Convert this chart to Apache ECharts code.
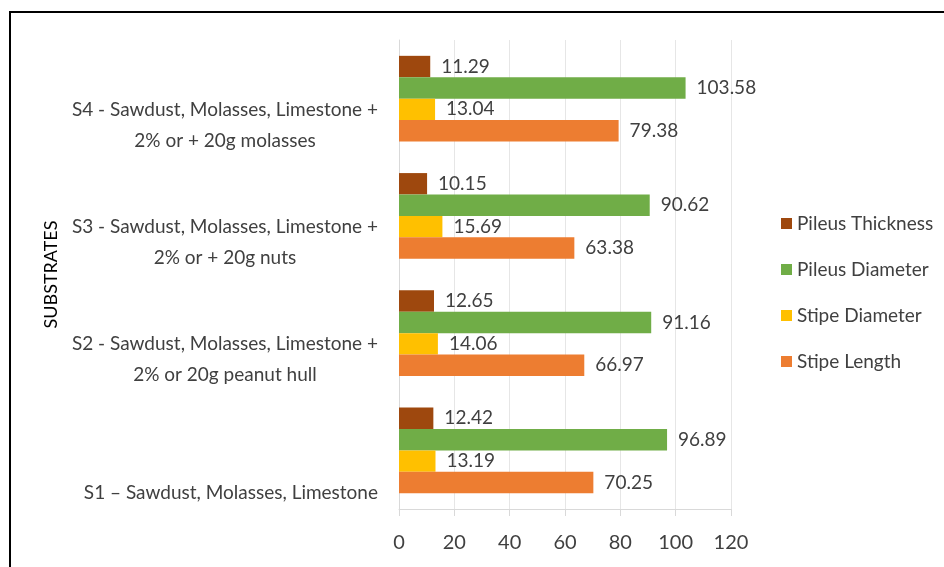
<!DOCTYPE html>
<html>
<head>
<meta charset="utf-8">
<script src="https://cdn.jsdelivr.net/npm/echarts@6/dist/echarts.min.js"></script>
<style>html,body{margin:0;padding:0;background:#fff}#c{width:944px;height:567px}</style>
</head>
<body>
<div id="c"></div>
<script>
var categories = [
  'S1 \u2013 Sawdust, Molasses, Limestone',
  'S2 - Sawdust, Molasses, Limestone +\n2% or 20g peanut hull',
  'S3 - Sawdust, Molasses, Limestone +\n2% or + 20g nuts',
  'S4 - Sawdust, Molasses, Limestone +\n2% or + 20g molasses'
];
var stipeLength = [70.25, 66.97, 63.38, 79.38];
var stipeDiameter = [13.19, 14.06, 15.69, 13.04];
var pileusDiameter = [96.89, 91.16, 90.62, 103.58];
var pileusThickness = [12.42, 12.65, 10.15, 11.29];
var xTicks = [0, 20, 40, 60, 80, 100, 120];

var FONT = 'Lato';
var TXT = '#404040';
function mk(name, data, color) {
  return {
    name: name, type: 'bar', data: data, barGap: '0%', barCategoryGap: '27%',
    itemStyle: { color: color },
    label: { show: true, position: 'right', distance: 11, color: TXT, fontFamily: FONT, fontSize: 19,
      formatter: function (p) { return p.value.toFixed(2); } }
  };
}
var chart = echarts.init(document.getElementById('c'));
chart.setOption({
  animation: false,
  textStyle: { fontFamily: FONT },
  graphic: [{ type: 'rect', shape: { x: 10, y: 12, width: 1000, height: 1000 },
    style: { fill: 'none', stroke: '#000', lineWidth: 2 }, silent: true }],
  grid: { left: 399, right: 213, top: 40, bottom: 58 },
  legend: {
    orient: 'vertical', left: 776, top: 209, itemWidth: 11, itemHeight: 11, itemGap: 27,
    icon: 'rect',
    data: ['Pileus Thickness', 'Pileus Diameter', 'Stipe Diameter', 'Stipe Length'],
    textStyle: { color: TXT, fontSize: 19, fontFamily: FONT }
  },
  xAxis: {
    type: 'value', min: xTicks[0], max: xTicks[xTicks.length - 1], interval: 20,
    axisLine: { show: true, lineStyle: { color: '#d9d9d9' } },
    axisTick: { show: true, length: 7, lineStyle: { color: '#d9d9d9' } },
    splitLine: { show: true, lineStyle: { color: '#e6e6e6' } },
    axisLabel: { color: TXT, fontSize: 20, fontFamily: FONT, margin: 24 }
  },
  yAxis: {
    type: 'category', data: categories,
    name: 'SUBSTRATES', nameLocation: 'middle', nameRotate: 90, nameGap: 339, nameMoveOverlap: false,
    nameTextStyle: { color: '#000', fontSize: 18, fontFamily: FONT },
    axisLine: { show: true, lineStyle: { color: '#d9d9d9' } },
    axisTick: { show: false },
    axisLabel: {
      color: TXT, fontSize: 19, fontFamily: FONT, margin: 21, align: 'right', verticalAlign: 'middle',
      formatter: function (v) {
        var lines = v.split('\n');
        var sp = lines.length > 1 ? '{sp2| }' : '{sp1| }';
        return sp + '\n' + lines.map(function (s) { return '{a|' + s + '}'; }).join('\n');
      },
      rich: {
        a: { align: 'center', color: TXT, fontSize: 19, fontFamily: FONT, lineHeight: 31 },
        sp2: { fontSize: 4, lineHeight: 53 },
        sp1: { fontSize: 4, lineHeight: 84 }
      }
    }
  },
  series: [
    mk('Pileus Thickness', pileusThickness, '#9E480E'),
    mk('Pileus Diameter', pileusDiameter, '#70AD47'),
    mk('Stipe Diameter', stipeDiameter, '#FFC000'),
    mk('Stipe Length', stipeLength, '#ED7D31')
  ]
});
</script>
</body>
</html>
